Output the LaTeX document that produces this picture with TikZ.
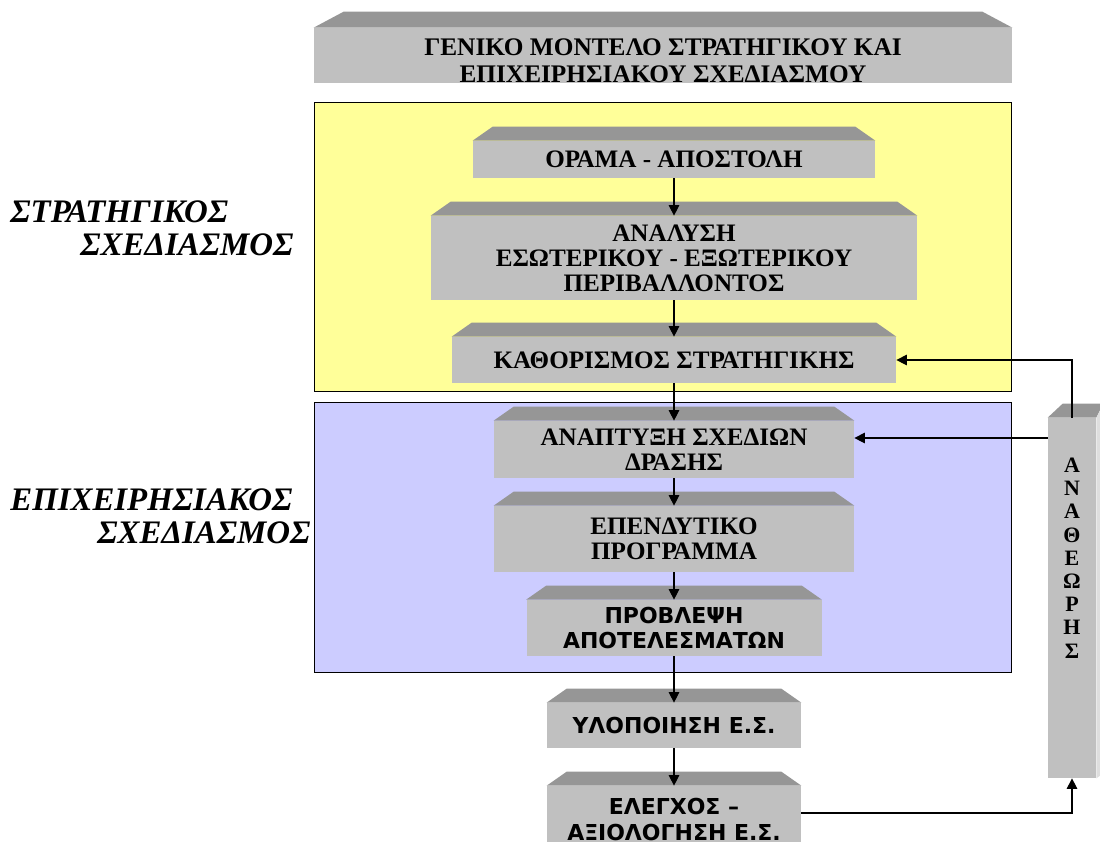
\documentclass[tikz,border=0pt]{standalone}
\usepackage{fontspec}
\setmainfont{Liberation Serif}
\newfontfamily\boxsans{DejaVu Sans}
\usetikzlibrary{arrows.meta}

\definecolor{boxgray}{RGB}{192,192,192}
\definecolor{bevelgray}{RGB}{150,150,150}
\definecolor{sidegray}{RGB}{222,222,222}
\definecolor{paleyellow}{RGB}{255,255,153}
\definecolor{paleblue}{RGB}{204,204,255}

\begin{document}
\begin{tikzpicture}[
  stage/.style={fill=boxgray, inner sep=0pt, align=center, font=\bfseries\fontsize{14.3}{14.3}\selectfont},
  sansstage/.style={stage, font=\boxsans\bfseries\fontsize{12.5}{14.7}\selectfont},
  sidelabel/.style={anchor=west, inner sep=0pt, font=\bfseries\itshape\fontsize{18.7}{20}\selectfont},
  flow/.style={-{Triangle[length=6pt,width=6pt]}, line width=0.6pt},
  ]
\useasboundingbox (0,0) rectangle (22,-16.82);
\clip (0,0) rectangle (22,-16.82);

% frames
\draw[fill=paleyellow] (6.28,-2.04) rectangle (20.22,-7.82);
\draw[fill=paleblue] (6.28,-8.04) rectangle (20.22,-13.44);

\node[stage, minimum width=13.96cm, minimum height=1.1cm] (title) at (13.26,-1.11) {};
\node[align=center, inner sep=0pt, font=\bfseries\fontsize{14.4}{15.4}\selectfont] (titletext)
  at ([yshift=-0.1cm]title.center) {ΓΕΝΙΚΟ ΜΟΝΤΕΛΟ ΣΤΡΑΤΗΓΙΚΟΥ ΚΑΙ\\ΕΠΙΧΕΙΡΗΣΙΑΚΟΥ ΣΧΕΔΙΑΣΜΟΥ};

\node[stage, minimum width=8.04cm, minimum height=0.74cm] (orama) at (13.48,-3.19) {ΟΡΑΜΑ - ΑΠΟΣΤΟΛΗ};
\node[stage, minimum width=9.72cm, minimum height=1.68cm] (analysi) at (13.48,-5.16)
  {ΑΝΑΛΥΣΗ\\ΕΣΩΤΕΡΙΚΟΥ - ΕΞΩΤΕΡΙΚΟΥ\\ΠΕΡΙΒΑΛΛΟΝΤΟΣ};
\node[stage, minimum width=8.88cm, minimum height=0.92cm] (kathorismos) at (13.48,-7.2) {ΚΑΘΟΡΙΣΜΟΣ ΣΤΡΑΤΗΓΙΚΗΣ};
\node[stage, minimum width=7.2cm, minimum height=1.14cm] (anaptyxi) at (13.48,-8.99) {ΑΝΑΠΤΥΞΗ ΣΧΕΔΙΩΝ\\ΔΡΑΣΗΣ};
\node[stage, minimum width=7.2cm, minimum height=1.32cm] (ependytiko) at (13.48,-10.78) {ΕΠΕΝΔΥΤΙΚΟ\\ΠΡΟΓΡΑΜΜΑ};
\node[sansstage, minimum width=5.9cm, minimum height=1.12cm] (provlepsi) at (13.48,-12.56) {ΠΡΟΒΛΕΨΗ\\ΑΠΟΤΕΛΕΣΜΑΤΩΝ};
\node[sansstage, minimum width=5.08cm, minimum height=0.9cm] (ylopoiisi) at (13.48,-14.51) {ΥΛΟΠΟΙΗΣΗ Ε.Σ.};
\node[sansstage, minimum width=5.08cm, minimum height=1.34cm] (elegxos) at (13.48,-16.39) {ΕΛΕΓΧΟΣ –\\ΑΞΙΟΛΟΓΗΣΗ Ε.Σ.};

\node[stage, minimum width=0.96cm, minimum height=7.2cm] (revision) at (21.44,-11.96) {};
\node[below, inner sep=0pt, align=center, font=\bfseries\fontsize{12.5}{13.2}\selectfont] (revletters)
  at ([yshift=-0.8cm]revision.north) {Α\\Ν\\Α\\Θ\\Ε\\Ω\\Ρ\\Η\\Σ};

% bevels
\fill[bevelgray] (title.north west) -- ++(0.6,0.32) -- ([shift={(-0.6,0.32)}]title.north east) -- (title.north east) -- cycle;
\foreach \n in {orama,analysi,kathorismos,anaptyxi,ependytiko,provlepsi,ylopoiisi,elegxos}
  \fill[bevelgray] (\n.north west) -- ++(0.4,0.28) -- ([shift={(-0.4,0.28)}]\n.north east) -- (\n.north east) -- cycle;
\fill[bevelgray] (revision.north west) -- ++(0.3,0.28) -- ([shift={(0.14,0.28)}]revision.north east) -- (revision.north east) -- cycle;
\fill[sidegray] (revision.north east) -- ++(0.14,0.28) -- ([shift={(0.14,0.1)}]revision.south east) -- (revision.south east) -- cycle;

\node[sidelabel] (strat1) at (0.2,-4.24) {ΣΤΡΑΤΗΓΙΚΟΣ};
\node[sidelabel] (strat2) at (1.6,-4.9) {ΣΧΕΔΙΑΣΜΟΣ};
\node[sidelabel] (oper1) at (0.2,-10.0) {ΕΠΙΧΕΙΡΗΣΙΑΚΟΣ};
\node[sidelabel] (oper2) at (1.94,-10.66) {ΣΧΕΔΙΑΣΜΟΣ};

% arrows
\foreach \a/\b in {orama/analysi,analysi/kathorismos,kathorismos/anaptyxi,anaptyxi/ependytiko,
    ependytiko/provlepsi,provlepsi/ylopoiisi,ylopoiisi/elegxos}
  \draw[flow] (\a) -- (\b);
\draw[flow] (elegxos.east |- 0,-16.26) -| (revision.south);
\draw[flow] (revision.north) |- (kathorismos.east);
\draw[flow] (revision.west |- 0,-8.76) -- (anaptyxi.east |- 0,-8.76);
\end{tikzpicture}
\end{document}
